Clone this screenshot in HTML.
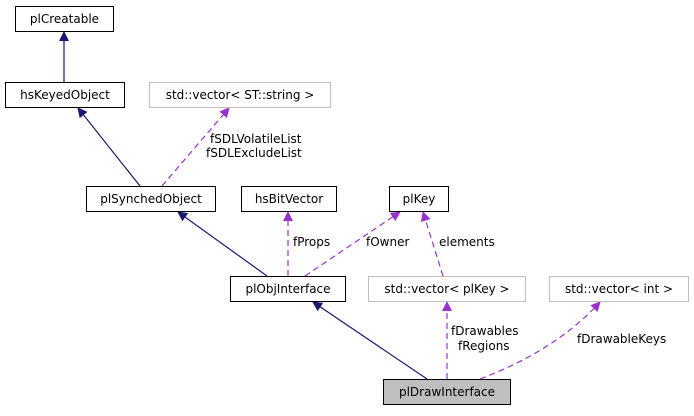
<!DOCTYPE html>
<html><head><meta charset="utf-8"><style>
html,body{margin:0;padding:0;background:#fff;}
svg text{font-family:"DejaVu Sans","Liberation Sans",sans-serif;font-size:12px;fill:#000;}
</style></head><body>
<svg width="694" height="411" viewBox="0 0 694 411" xmlns="http://www.w3.org/2000/svg">
<defs>
<marker id="nb" markerWidth="10" markerHeight="10" refX="9" refY="5" orient="auto" markerUnits="userSpaceOnUse" viewBox="0 0 10 10"><path d="M0,0 L10,5 L0,10 z" fill="#191970"/></marker>
<marker id="pb" markerWidth="10" markerHeight="10" refX="9" refY="5" orient="auto" markerUnits="userSpaceOnUse" viewBox="0 0 10 10"><path d="M0,0 L10,5 L0,10 z" fill="#9a32cd"/></marker>
</defs>
<g fill="none" stroke="#191970" stroke-width="1.2">
<line x1="64" y1="82" x2="64" y2="32" marker-end="url(#nb)"/>
<line x1="140" y1="186" x2="78" y2="108" marker-end="url(#nb)"/>
<line x1="267" y1="276" x2="178" y2="212" marker-end="url(#nb)"/>
<line x1="427" y1="379" x2="313" y2="302" marker-end="url(#nb)"/>
</g>
<g fill="none" stroke="#9a32cd" stroke-width="1.2" stroke-dasharray="6,4">
<line x1="162" y1="186" x2="229" y2="108" marker-end="url(#pb)"/>
<line x1="288" y1="276" x2="288" y2="212" marker-end="url(#pb)"/>
<line x1="305" y1="276" x2="400" y2="212" marker-end="url(#pb)"/>
<line x1="443" y1="276" x2="423" y2="212" marker-end="url(#pb)"/>
<line x1="447" y1="379" x2="447" y2="302" marker-end="url(#pb)"/>
<path d="M480,379 C530,360 570,335 600,302" marker-end="url(#pb)"/>
</g>
<g stroke-width="1">
<rect x="15.5" y="6.5" width="98" height="25" fill="#fff" stroke="#000"/>
<rect x="5.5" y="82.5" width="119" height="25" fill="#fff" stroke="#000"/>
<rect x="149.5" y="82.5" width="181" height="25" fill="#fff" stroke="#bfbfbf"/>
<rect x="86.5" y="186.5" width="129" height="25" fill="#fff" stroke="#000"/>
<rect x="241.5" y="186.5" width="95" height="25" fill="#fff" stroke="#000"/>
<rect x="389.5" y="186.5" width="59" height="25" fill="#fff" stroke="#000"/>
<rect x="230.5" y="276.5" width="115" height="25" fill="#fff" stroke="#000"/>
<rect x="368.5" y="276.5" width="157" height="25" fill="#fff" stroke="#bfbfbf"/>
<rect x="549.5" y="276.5" width="139" height="25" fill="#fff" stroke="#bfbfbf"/>
<rect x="383.5" y="379.5" width="127" height="25" fill="#bfbfbf" stroke="#000"/>
</g>
<g text-anchor="middle">
<text x="64.5" y="23">plCreatable</text>
<text x="65" y="99">hsKeyedObject</text>
<text x="240" y="99">std::vector&lt; ST::string &gt;</text>
<text x="151" y="203">plSynchedObject</text>
<text x="289" y="203">hsBitVector</text>
<text x="419" y="203">plKey</text>
<text x="288" y="293">plObjInterface</text>
<text x="447" y="293">std::vector&lt; plKey &gt;</text>
<text x="619" y="293">std::vector&lt; int &gt;</text>
<text x="447" y="396">plDrawInterface</text>
</g>
<g>
<text x="210" y="143">fSDLVolatileList</text>
<text x="206" y="157">fSDLExcludeList</text>
<text x="293" y="246">fProps</text>
<text x="366" y="246">fOwner</text>
<text x="439" y="246">elements</text>
<text x="451" y="335">fDrawables</text>
<text x="458" y="350">fRegions</text>
<text x="577" y="343">fDrawableKeys</text>
</g>
</svg>
</body></html>
